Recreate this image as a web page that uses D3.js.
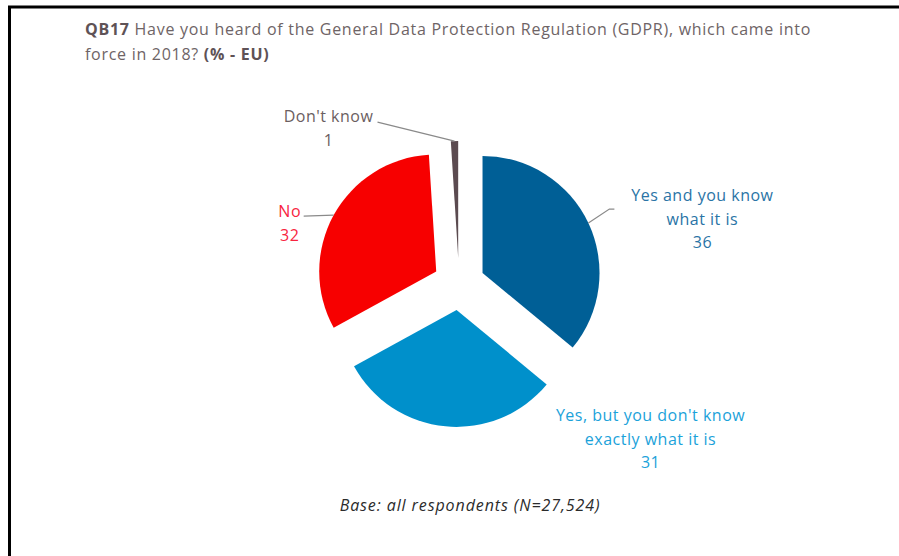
<!DOCTYPE html>
<html>
<head>
<meta charset="utf-8">
<script src="https://cdn.jsdelivr.net/npm/d3@7"></script>
<style>
  html, body { margin: 0; padding: 0; background: #fff; }
  svg { display: block; }
  text { font-family: "Open Sans", "Noto Sans", sans-serif; }
  .title { font-size: 16px; fill: #6e6466; letter-spacing: 0.72px; }
  .title .b { font-weight: bold; fill: #5e5256; }
  .lbl { font-size: 16px; text-anchor: middle; letter-spacing: 0.5px; }
  .leader { fill: none; stroke: #8a8a8a; stroke-width: 1.2; }
  .base { font-size: 16px; font-style: italic; fill: #2b2b2b; text-anchor: middle; letter-spacing: 0.9px; }
</style>
</head>
<body>
<script>
// data
var categories = ['Yes and you know what it is', "Yes, but you don't know exactly what it is", 'No', "Don't know"];
var values = [36, 31, 32, 1];
var sliceColors = ['#005f96', '#0090cb', '#f70000', '#5b4b50'];
var labelColors = ['#2a74a6', '#1ba2da', '#f8243f', '#6b5e61'];
var labelLines = [['Yes and you know', 'what it is'], ["Yes, but you don't know", 'exactly what it is'], ['No'], ["Don't know"]];

var W = 899, H = 556,
  cx = 459, cy = 284,
  r = 117, pull = 26;

// label placement relative to the outer point of each slice (dx, dy of the text block)
var layout = [
  {dx: 114, dy: -22, lead: [[21, -14], [26, -14]]},
  {dx: 205, dy: -5, lead: null},
  {dx: -44, dy: 2, lead: [[-30, 1]]},
  {dx: -126, dy: -19, lead: [[-4, -1], [-77, -19]]}
];

var svg = d3.select('body').append('svg')
  .attr('width', W)
  .attr('height', H);

// frame (top + left rule)
svg.append('path')
  .attr('d', 'M9.5,' + H + ' V7 H' + W)
  .attr('fill', 'none')
  .attr('stroke', '#000')
  .attr('stroke-width', 3);

// title
var t1 = svg.append('text').attr('class', 'title').attr('x', 85).attr('y', 35);
t1.append('tspan').attr('class', 'b').text('QB17');
t1.append('tspan').text(' Have you heard of the General Data Protection Regulation (GDPR), which came into');
var t2 = svg.append('text').attr('class', 'title').attr('x', 85).attr('y', 60);
t2.append('tspan').text('force in 2018? ');
t2.append('tspan').attr('class', 'b').text('(% - EU)');

var pie = d3.pie().sort(null).value(function(d) { return d; });
var arcs = pie(values);
var arc = d3.arc().innerRadius(0).outerRadius(r);

var g = svg.append('g').attr('transform', 'translate(' + cx + ',' + cy + ')');

arcs.forEach(function(d, i) {
  var a = (d.startAngle + d.endAngle) / 2,
    ox = pull * Math.sin(a),
    oy = -pull * Math.cos(a);

  g.append('path')
    .attr('transform', 'translate(' + ox + ',' + oy + ')')
    .attr('d', arc(d))
    .attr('fill', sliceColors[i]);

  // outer point on the bisector
  var px = ox + r * Math.sin(a),
    py = oy - r * Math.cos(a);
  var L = layout[i];

  if (L.lead) {
    var pts = [[px, py]].concat(L.lead.map(function(p) { return [px + p[0], py + p[1]]; }));
    g.append('path')
      .attr('class', 'leader')
      .attr('d', d3.line()(pts));
  }

  var txt = g.append('text')
    .attr('class', 'lbl')
    .attr('fill', labelColors[i])
    .attr('x', px + L.dx)
    .attr('y', py + L.dy);
  var lines = labelLines[i].concat([String(values[i])]);
  lines.forEach(function(s, k) {
    txt.append('tspan')
      .attr('x', px + L.dx)
      .attr('dy', k === 0 ? 0 : 23.5)
      .text(s);
  });
});

svg.append('text')
  .attr('class', 'base')
  .attr('x', 470)
  .attr('y', 511)
  .text('Base: all respondents (N=27,524)');
</script>
</body>
</html>
